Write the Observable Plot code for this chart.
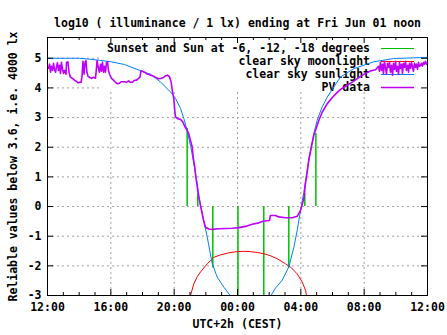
<!DOCTYPE html>
<html><head><meta charset="utf-8">
<script src="https://cdn.jsdelivr.net/npm/d3@7"></script>
<script src="https://cdn.jsdelivr.net/npm/@observablehq/plot@0.6"></script>
<style>
body{margin:0;background:#fff;}
#chart svg{font-family:"DejaVu Sans Mono",monospace;font-weight:bold;}
</style></head><body><div id="chart"></div>
<script>
// ---- texts ----
const title = "log10 ( illuminance / 1 lx) ending at Fri Jun 01 noon";
const yLabel = "Reliable values below 3.6, i.e. 4000 lx";
const xLabel = "UTC+2h (CEST)";
// x is hours since Thu May 31 12:00 (CEST)
const xTickHours = [0, 4, 8, 12, 16, 20, 24];
const xTickLabels = ["12:00", "16:00", "20:00", "00:00", "04:00", "08:00", "12:00"];
const yTicks = [-3, -2, -1, 0, 1, 2, 3, 4, 5];
const legendLabels = ["Sunset and Sun at -6, -12, -18 degrees", "clear sky moonlight", "clear sky sunlight", "PV data"];
const seriesColors = ["#00c000", "#ff0000", "#0080ff", "#c000ff"];

// Sunset and Sun at -6, -12, -18 degrees (evening), then mirrored in the morning
const eventHours  = [8.82, 9.49, 10.44, 12.03, 13.66, 15.24, 16.25, 16.95];
const eventValues = [2.63, 0.44, -2.07, -3.0, -3.0, -2.07, 0.43, 2.46];

// clear sky moonlight
const moonData = [[9.03,-3.0],[9.24,-2.61],[9.45,-2.37],[9.66,-2.21],[10.09,-1.93],[10.51,-1.71],[10.93,-1.63],[11.45,-1.56],[11.98,-1.52],[12.40,-1.51],[12.82,-1.52],[13.24,-1.55],[13.66,-1.59],[14.08,-1.66],[14.51,-1.76],[15.03,-1.93],[15.35,-2.04],[15.77,-2.27],[16.09,-2.55],[16.30,-2.83],[16.36,-3.0]];

// clear sky sunlight (evening segment, morning segment)
const sunEvening = [[0,5.0],[2.02,5.0],[2.65,4.97],[3.28,4.93],[4.02,4.88],[4.86,4.79],[5.92,4.57],[6.51,4.46],[7.14,4.20],[7.77,3.86],[8.08,3.65],[8.40,3.31],[8.61,2.97],[8.82,2.57],[9.03,2.06],[9.24,1.46],[9.45,0.78],[9.56,0.34],[9.77,-0.23],[10.09,-1.03],[10.40,-1.92],[10.72,-2.38],[11.14,-2.72],[11.45,-2.94],[11.56,-3.0]];
const sunMorning = [[14.12,-3.0],[14.40,-2.75],[14.82,-2.49],[15.24,-2.04],[15.56,-1.37],[15.77,-0.81],[15.98,-0.13],[16.19,0.48],[16.50,1.56],[16.82,2.46],[17.03,2.91],[17.35,3.36],[17.67,3.69],[18.08,4.03],[18.51,4.37],[19.35,4.65],[20.59,4.88],[21.85,4.99],[24,5.03]];

// PV data
const pvData = [[0.06,4.66],[0.13,4.80],[0.19,4.53],[0.25,4.73],[0.32,4.59],[0.38,4.83],[0.44,4.63],[0.51,4.53],[0.57,4.73],[0.63,4.85],[0.69,4.59],[0.76,4.76],[0.82,4.49],[0.88,4.86],[0.95,4.63],[1.01,4.49],[1.07,4.59],[1.17,4.46],[1.20,4.86],[1.29,4.88],[1.36,4.53],[1.45,4.36],[1.58,4.32],[1.71,4.26],[1.83,4.22],[1.93,4.17],[2.02,4.19],[2.12,4.19],[2.18,4.39],[2.24,4.90],[2.31,4.46],[2.37,4.86],[2.43,4.92],[2.49,4.53],[2.56,4.39],[2.65,4.36],[2.78,4.32],[2.91,4.36],[3.03,4.32],[3.08,4.59],[3.13,4.92],[3.19,4.73],[3.28,4.53],[3.35,4.80],[3.41,4.56],[3.47,4.86],[3.54,4.53],[3.60,4.73],[3.66,4.53],[3.73,4.86],[3.79,4.88],[3.85,4.59],[3.92,4.46],[4.04,4.32],[4.17,4.26],[4.29,4.19],[4.42,4.14],[4.55,4.16],[4.67,4.21],[4.86,4.21],[4.99,4.19],[5.12,4.24],[5.24,4.19],[5.37,4.19],[5.49,4.26],[5.62,4.26],[5.75,4.32],[5.84,4.36],[5.91,4.58],[6.00,4.56],[6.13,4.53],[6.25,4.48],[6.38,4.46],[6.51,4.43],[6.63,4.41],[6.76,4.38],[6.88,4.34],[7.01,4.31],[7.14,4.32],[7.33,4.35],[7.45,4.41],[7.58,4.43],[7.71,4.37],[7.81,4.20],[7.88,3.92],[7.98,3.64],[8.02,3.36],[8.08,3.02],[8.23,2.96],[8.40,2.94],[8.55,2.85],[8.67,2.70],[8.82,2.57],[8.92,2.46],[9.03,2.23],[9.14,2.01],[9.20,1.67],[9.30,1.33],[9.37,0.99],[9.46,0.66],[9.56,0.32],[9.66,0.04],[9.77,-0.24],[9.87,-0.50],[9.98,-0.70],[10.19,-0.76],[10.40,-0.77],[10.82,-0.75],[11.24,-0.74],[11.67,-0.73],[12.08,-0.71],[12.51,-0.67],[12.93,-0.60],[13.35,-0.55],[13.66,-0.49],[14.02,-0.47],[14.08,-0.30],[14.40,-0.30],[14.61,-0.35],[15.03,-0.38],[15.46,-0.38],[15.77,-0.33],[15.98,-0.13],[16.19,0.27],[16.30,0.81],[16.40,1.15],[16.50,1.56],[16.66,2.00],[16.82,2.40],[16.99,2.67],[17.14,2.91],[17.35,3.18],[17.67,3.47],[17.98,3.67],[18.30,3.85],[18.51,3.95],[18.93,4.09],[19.35,4.23],[19.77,4.39],[20.08,4.49],[20.40,4.57],[20.72,4.61],[20.91,4.73],
[20.97,4.56],[21.03,4.86],[21.10,4.59],[21.16,4.80],[21.22,4.49],[21.28,4.90],[21.35,4.66],[21.41,4.46],[21.47,4.83],[21.54,4.70],[21.60,4.86],[21.66,4.53],[21.73,4.76],[21.79,4.43],[21.85,4.83],[21.92,4.63],[21.98,4.90],[22.04,4.56],[22.10,4.73],[22.17,4.46],[22.23,4.86],[22.29,4.66],[22.36,4.80],[22.42,4.49],[22.48,4.83],[22.55,4.70],[22.61,4.90],[22.67,4.59],[22.74,4.76],[22.80,4.53],[22.86,4.83],[22.93,4.66],[22.99,4.86],[23.05,4.73],[23.11,4.56],[23.18,4.83],[23.24,4.70],[23.30,4.80],[23.37,4.63],[23.43,4.86],[23.49,4.73],[23.56,4.76],[23.62,4.83],[23.68,4.73],[23.75,4.86],[23.81,4.80],[23.87,4.90],[23.94,4.80],[24.00,4.83]];

// ---- build tables ----
const events = eventHours.map((h, i) => ({h, v: eventValues[i]}));
const moon = moonData.map(([h, v]) => ({h, v}));
const sun = sunEvening.map(([h, v]) => ({h, v, seg: "evening"}))
  .concat(sunMorning.map(([h, v]) => ({h, v, seg: "morning"})));
const pv = pvData.map(([h, v]) => ({h, v}));
const xTicks = xTickHours.map((h, i) => ({h, label: xTickLabels[i]}));
const hourTicks = d3.range(1, 24);
const majorHours = hourTicks.filter(h => h % 4 === 0);
const minorHours = hourTicks.filter(h => h % 4 !== 0);

const W = 447, H = 335, mL = 47, mR = 20, mT = 37, mB = 40;
const fw = W - mL - mR, fh = H - mT - mB;
const majorLen = 6, minorLen = 3;
const gridStyle = {stroke: "#a0a0a0", strokeWidth: 1, strokeDasharray: "2,3"};

const plot = Plot.plot({
  width: W, height: H,
  marginLeft: mL, marginRight: mR, marginTop: mT, marginBottom: mB,
  x: {domain: [0, 24], axis: null},
  y: {domain: [-3, 5.7], axis: null},
  style: {fontFamily: "'DejaVu Sans Mono', monospace", fontSize: "11.5px", fontWeight: "bold", background: "white", color: "black"},
  marks: [
    Plot.ruleX(majorHours, {x: d => d, ...gridStyle}),
    Plot.ruleY(yTicks.slice(1), {y: d => d, ...gridStyle}),
    Plot.ruleX(events, {x: "h", y1: 0, y2: "v", stroke: seriesColors[0], strokeWidth: 1.5, ariaDescription: "sun-events"}),
    Plot.line(moon, {x: "h", y: "v", stroke: seriesColors[1], strokeWidth: 1}),
    Plot.line(sun, {x: "h", y: "v", z: "seg", stroke: seriesColors[2], strokeWidth: 1}),
    Plot.line(pv, {x: "h", y: "v", stroke: seriesColors[3], strokeWidth: 1.6}),
    Plot.frame({stroke: "black", strokeWidth: 1}),
    // ticks (mirrored on all four sides, pointing inward)
    Plot.ruleX(majorHours, {x: d => d, stroke: "black", insetTop: fh - majorLen}),
    Plot.ruleX(majorHours, {x: d => d, stroke: "black", insetBottom: fh - majorLen}),
    Plot.ruleX(minorHours, {x: d => d, stroke: "black", insetTop: fh - minorLen}),
    Plot.ruleX(minorHours, {x: d => d, stroke: "black", insetBottom: fh - minorLen}),
    Plot.ruleY(yTicks, {y: d => d, stroke: "black", insetRight: fw - majorLen}),
    Plot.ruleY(yTicks, {y: d => d, stroke: "black", insetLeft: fw - majorLen}),
    // tick labels
    Plot.text(xTicks, {x: "h", text: "label", frameAnchor: "bottom", dy: 15, fill: "black"}),
    Plot.text(yTicks, {y: d => d, text: d => String(d), frameAnchor: "left", textAnchor: "end", dx: -6, fill: "black"}),
    // axis titles and title
    Plot.text([yLabel], {text: d => d, frameAnchor: "left", textAnchor: "middle", rotate: -90, dx: -34, fill: "black"}),
    Plot.text([xLabel], {text: d => d, frameAnchor: "bottom", dy: 32, fill: "black"}),
    Plot.text([title], {text: d => d, frameAnchor: "top", dy: -19, fill: "black"})
  ]
});
document.getElementById("chart").appendChild(plot);

// ---- opaque key (drawn under the curves, over the grid) ----
let before = plot.querySelector('[aria-description="sun-events"]');
if (!before) before = plot.querySelectorAll(":scope > g")[2];
const key = d3.create("svg:g").attr("aria-label", "legend");
const keyLeft = 99, keyBottom = 92, keyRight = W - mR;
key.append("rect").attr("x", keyLeft).attr("y", mT).attr("width", keyRight - keyLeft).attr("height", keyBottom - mT).attr("fill", "white");
const rowY = [48, 61, 74, 87];
legendLabels.forEach((lab, i) => {
  key.append("text").attr("x", 370).attr("y", rowY[i]).attr("dy", "0.35em")
    .attr("text-anchor", "end").attr("fill", "black")
    .style("font-family", "'DejaVu Sans Mono', monospace").style("font-size", "11.5px").style("font-weight", "bold")
    .text(lab);
  key.append("line").attr("x1", 381).attr("x2", 414).attr("y1", rowY[i] + 0.5).attr("y2", rowY[i] + 0.5)
    .attr("stroke", seriesColors[i]).attr("stroke-width", i === 3 ? 1.6 : 1);
});
plot.insertBefore(key.node(), before);
</script>
</body></html>
